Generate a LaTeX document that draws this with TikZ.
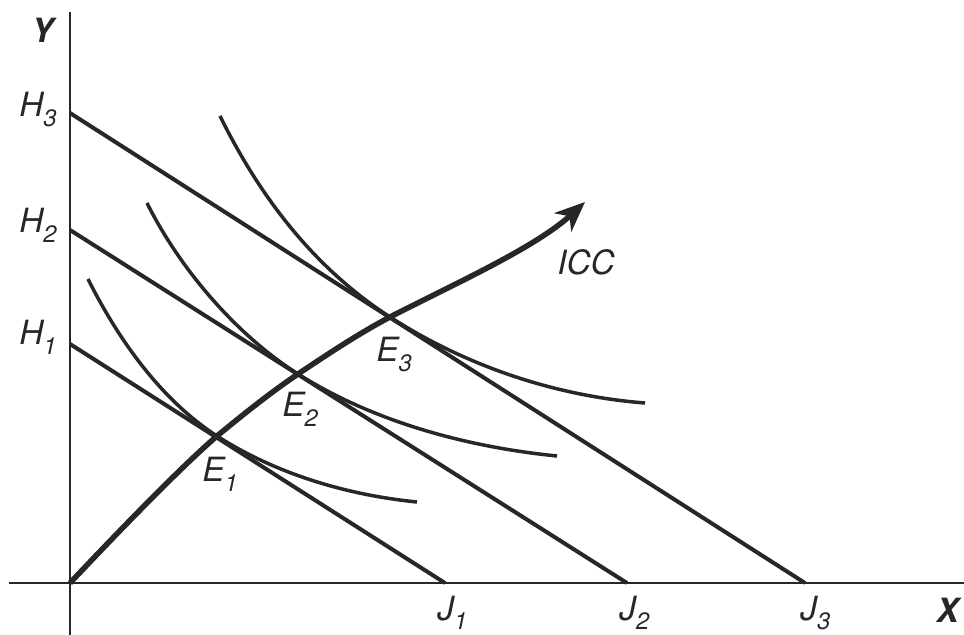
\documentclass[tikz,border=0pt]{standalone}
\usepackage{fontspec}
\setmainfont{TeX Gyre Heros}
\usetikzlibrary{arrows.meta}
\definecolor{icInk}{RGB}{40,38,40}
\newcommand{\sublab}[2]{#1\raisebox{-5.5pt}{\fontsize{13.5}{14}\selectfont #2}}

\begin{document}
\begin{tikzpicture}[
  x=0.2mm, y=-0.2mm,
  every node/.style={font=\fontsize{19}{21}\selectfont\itshape,text=icInk,
                     inner sep=0pt,anchor=base west},
  axis/.style   ={draw=icInk,line width=0.4mm},
  budget/.style ={draw=icInk,line width=0.8mm},
  indiff/.style ={draw=icInk,line width=0.7mm},
  icc/.style    ={draw=icInk,line width=1.1mm,
                  -{Stealth[length=6mm,width=5mm,inset=1.8mm]}},
  axlab/.style  ={font=\fontsize{19}{21}\selectfont\bfseries\itshape}
]
\useasboundingbox (0,0) rectangle (964,635);
% points on the axes
\coordinate (O)  at (70,583);
\coordinate (H1) at (70,344);
\coordinate (H2) at (70,230);
\coordinate (H3) at (70,113);
\coordinate (J1) at (445,583);
\coordinate (J2) at (627,583);
\coordinate (J3) at (805,583);
% tangency points
\coordinate (E1) at (217,436);
\coordinate (E2) at (298,374);
\coordinate (E3) at (390,317);
\coordinate (tip) at (585,202);
% axes
\draw[axis] (70,12) -- (70,635);
\draw[axis] (9,583) -- (964,583);
% budget lines
\draw[budget] (H1) -- (J1);
\draw[budget] (H2) -- (J2);
\draw[budget] (H3) -- (J3);
% indifference curves
\draw[indiff] (88,279) .. controls (118,339) and (161,400) .. (E1)
              .. controls (276,474) and (347,495) .. (417,502);
\draw[indiff] (147,203) .. controls (181,271) and (238,336) .. (E2)
              .. controls (374,422) and (467,447) .. (557,456);
\draw[indiff] (220,116) .. controls (260,197) and (314,268) .. (E3)
              .. controls (466,366) and (555,396) .. (645,403);
% income consumption curve
\draw[icc] (O) .. controls (120,530) and (180,468) .. (E1)
           .. controls (245,413) and (270,393) .. (E2)
           .. controls (328,354) and (358,334) .. (E3)
           .. controls (450,286) and (535,248) .. (tip);
% labels
\node[axlab] (ylab) at (31,43)   {Y};
\node[axlab] (xlab) at (936,622) {X};
\node (h3lab) at (19,117) {\sublab{H}{3}};
\node (h2lab) at (19,233) {\sublab{H}{2}};
\node (h1lab) at (19,345) {\sublab{H}{1}};
\node (j1lab) at (437,620) {\sublab{J}{1}};
\node (j2lab) at (619,620) {\sublab{J}{2}};
\node (j3lab) at (800,620) {\sublab{J}{3}};
\node (e1lab) at (202,482) {\sublab{E}{1}};
\node (e2lab) at (282,417) {\sublab{E}{2}};
\node (e3lab) at (376,362) {\sublab{E}{3}};
\node (icclab) at (557,275) {ICC};
\end{tikzpicture}
\end{document}
